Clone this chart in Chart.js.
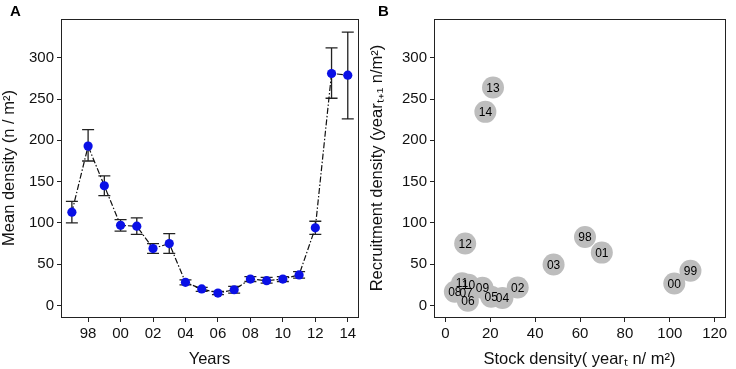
<!DOCTYPE html>
<html>
<head>
<meta charset="utf-8">
<script src="https://cdn.jsdelivr.net/npm/chart.js@4"></script>
<style>
  html, body { margin: 0; padding: 0; background: #fff; }
  .wrap { display: flex; width: 736px; height: 369px; }
  .box { position: relative; width: 368px; height: 369px; }
  canvas { display: block; }
</style>
</head>
<body>
<div class="wrap">
  <div class="box"><canvas id="chartA" width="368" height="369"></canvas></div>
  <div class="box"><canvas id="chartB" width="368" height="369"></canvas></div>
</div>
<script>
// panel A: mean density per year, with error bars
const years = [1997, 1998, 1999, 2000, 2001, 2002, 2003, 2004, 2005, 2006, 2007, 2008, 2009, 2010, 2011, 2012, 2013, 2014];
const meanDensity = [113, 193, 145, 97, 96, 69, 75, 28, 20, 15, 19, 32, 30, 32, 37, 94, 281, 279];
const errLow = [100, 175, 133, 90, 86, 63, 63, 25, 17, 13, 15, 29, 27, 29, 33, 86, 251, 226];
const errHigh = [126, 213, 157, 104, 106, 75, 87, 31, 22, 17, 23, 35, 34, 35, 41, 102, 312, 331];
const yearTicks = [1998, 2000, 2002, 2004, 2006, 2008, 2010, 2012, 2014];
const densityTicks = [0, 50, 100, 150, 200, 250, 300];

// panel B: stock vs recruitment
const pointLabels = ['13', '14', '12', '98', '01', '03', '00', '99', '02', '09', '05', '04', '11', '10', '08', '07', '06'];
const stockDensity = [21.2, 17.8, 8.8, 62.2, 69.7, 48.2, 102, 109.2, 32.2, 16.5, 20.4, 25.4, 7.4, 10.3, 4.2, 9.2, 10.0];
const recruitDensity = [264, 234.5, 75, 83, 64, 49.6, 26.6, 42, 21.8, 21.4, 10.5, 8.9, 27, 25, 16.5, 15.7, 5.7];
const stockTicks = [0, 20, 40, 60, 80, 100, 120];

const FONT = 'Liberation Sans, Arial, sans-serif';
const INK = '#222';

const framePlugin = {
  id: 'frame',
  afterDraw(chart, args, opts) {
    const { ctx, chartArea: a } = chart;
    ctx.save();
    ctx.strokeStyle = INK;
    ctx.lineWidth = 1;
    ctx.strokeRect(Math.round(a.left) + 0.5, Math.round(a.top) + 0.5, Math.round(a.right - a.left), Math.round(a.bottom - a.top));
    ctx.fillStyle = '#000';
    ctx.font = 'bold 15px ' + FONT;
    ctx.textBaseline = 'top';
    ctx.fillText(opts.letter, opts.lx, 4);
    ctx.restore();
  }
};

const errorBars = {
  id: 'errorBars',
  beforeDatasetsDraw(chart) {
    const { ctx, scales: { x, y } } = chart;
    ctx.save();
    ctx.strokeStyle = INK;
    ctx.lineWidth = 1.3;
    years.forEach((yr, i) => {
      const px = x.getPixelForValue(yr);
      const lo = y.getPixelForValue(errLow[i]);
      const hi = y.getPixelForValue(errHigh[i]);
      ctx.beginPath();
      ctx.moveTo(px, lo); ctx.lineTo(px, hi);
      ctx.moveTo(px - 6, lo); ctx.lineTo(px + 6, lo);
      ctx.moveTo(px - 6, hi); ctx.lineTo(px + 6, hi);
      ctx.stroke();
    });
    ctx.restore();
  }
};

const bubbleLabels = {
  id: 'bubbleLabels',
  afterDatasetsDraw(chart) {
    const { ctx } = chart;
    const meta = chart.getDatasetMeta(0);
    ctx.save();
    ctx.fillStyle = '#000';
    ctx.font = '12px ' + FONT;
    ctx.textAlign = 'center';
    ctx.textBaseline = 'middle';
    meta.data.forEach((pt, i) => {
      ctx.fillText(pointLabels[i], pt.x, pt.y + 1);
    });
    ctx.restore();
  }
};

function axisY(title, width) {
  return {
    min: -14, max: 347,
    afterBuildTicks: ax => { ax.ticks = densityTicks.map(v => ({ value: v })); },
    afterFit: ax => { ax.width = width; },
    grid: { drawOnChartArea: false, drawTicks: true, tickLength: 4, color: INK },
    border: { display: true, color: INK },
    ticks: { color: '#111', padding: 3, font: { family: FONT, size: 15 } },
    title: { display: true, text: title, color: '#111', padding: { top: 0, bottom: 1 }, font: { family: FONT, size: 16.5 } }
  };
}

function axisX(title, min, max, tickVals, fmt) {
  return {
    type: 'linear', min: min, max: max,
    afterBuildTicks: ax => { ax.ticks = tickVals.map(v => ({ value: v })); },
    afterFit: ax => { ax.height = 52; },
    grid: { drawOnChartArea: false, drawTicks: true, tickLength: 5, color: INK },
    border: { display: true, color: INK },
    ticks: { color: '#111', padding: 3, maxRotation: 0, autoSkip: false, callback: fmt, font: { family: FONT, size: 15 } },
    title: { display: true, text: title, color: '#111', padding: { top: 0, bottom: 0 }, font: { family: FONT, size: 16.5 } }
  };
}

new Chart(document.getElementById('chartA'), {
  type: 'line',
  data: {
    datasets: [{
      data: years.map((yr, i) => ({ x: yr, y: meanDensity[i] })),
      borderColor: '#111',
      borderWidth: 1.2,
      borderDash: [6, 2, 1.5, 2],
      backgroundColor: '#0a10e6',
      pointBackgroundColor: '#0a10e6',
      pointBorderWidth: 0,
      pointRadius: 4.6,
      tension: 0
    }]
  },
  options: {
    responsive: false,
    animation: false,
    layout: { padding: { top: 19, right: 10, left: 0, bottom: 0 } },
    plugins: {
      legend: { display: false },
      tooltip: { enabled: false },
      frame: { letter: 'A', lx: 10 }
    },
    scales: {
      x: axisX('Years', 1996.33, 2014.63, yearTicks, v => String(v % 100).padStart(2, '0')),
      y: axisY('Mean density (n / m²)', 61)
    }
  },
  plugins: [errorBars, framePlugin]
});

new Chart(document.getElementById('chartB'), {
  type: 'scatter',
  data: {
    datasets: [{
      data: stockDensity.map((v, i) => ({ x: v, y: recruitDensity[i] })),
      backgroundColor: '#bdbdbd',
      borderWidth: 0,
      pointRadius: 11
    }]
  },
  options: {
    responsive: false,
    animation: false,
    layout: { padding: { top: 19, right: 4, left: 0, bottom: 0 } },
    plugins: {
      legend: { display: false },
      tooltip: { enabled: false },
      frame: { letter: 'B', lx: 10 }
    },
    scales: {
      x: axisX('Stock density( yearₜ n/ m²)', -5.1, 124.6, stockTicks, v => v),
      y: axisY('Recruitment density (yearₜ₊₁ n/m²)', 66)
    }
  },
  plugins: [bubbleLabels, framePlugin]
});
</script>
</body>
</html>
